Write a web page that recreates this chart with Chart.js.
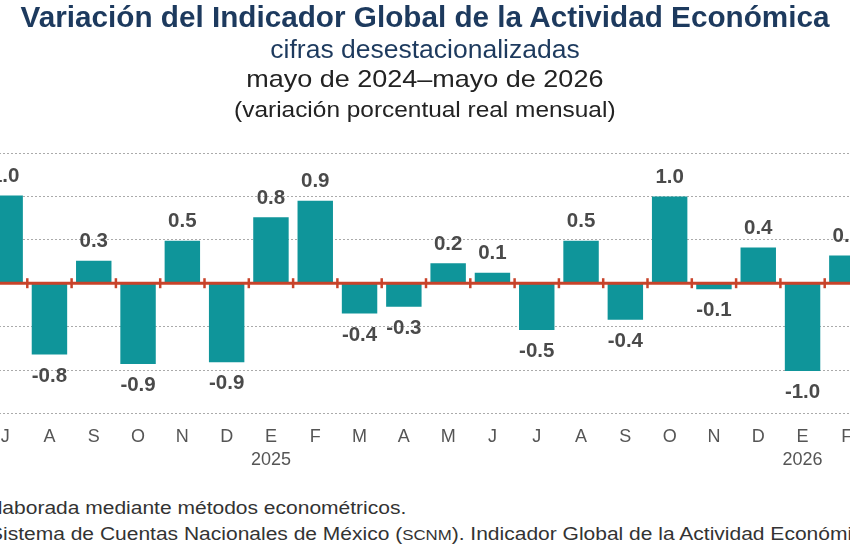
<!DOCTYPE html>
<html lang="es">
<head>
<meta charset="utf-8">
<title>IGAE</title>
<script src="https://cdn.jsdelivr.net/npm/chart.js@4.4.1/dist/chart.umd.min.js"></script>
<style>
    html, body { margin: 0; padding: 0; width: 850px; height: 550px; overflow: hidden; background: #fff; }
    body { position: relative; font-family: "Liberation Sans", Arial, sans-serif; }
    #chartIgae { position: absolute; left: -17px; top: 0; width: 886px; height: 490px; }
    .titulo { position: absolute; left: 0; width: 850px; text-align: center; white-space: nowrap; line-height: 1; }
    .titulo span { display: inline-block; transform-origin: center; }
    .nota { position: absolute; white-space: nowrap; font-size: 17.5px; color: #333; line-height: 1; transform: scaleX(1.2); transform-origin: left; }
</style>
</head>
<body>
<canvas id="chartIgae" width="886" height="490"></canvas>

<div class="titulo" style="top:2px; font-size:29.7px; font-weight:bold; color:#1d3a5e;"><span>Variación del Indicador Global de la Actividad Económica</span></div>
<div class="titulo" style="top:35.5px; font-size:26.5px; color:#1d3a5e;"><span>cifras desestacionalizadas</span></div>
<div class="titulo" style="top:66.5px; font-size:24px; color:#222;"><span style="transform:scaleX(1.125);">mayo de 2024–mayo de 2026</span></div>
<div class="titulo" style="top:98.5px; font-size:22px; color:#222;"><span style="transform:scaleX(1.11);">(variación porcentual real mensual)</span></div>

<div class="nota" style="left:-14.3px; top:500px;">elaborada mediante métodos econométricos.</div>
<div class="nota" style="left:-11px; top:526px;">Sistema de Cuentas Nacionales de México (<span style="font-size:14px;">SCNM</span>). Indicador Global de la Actividad Económica</div>

<script>
// Meses visibles (julio 2024 - febrero 2026)
const meses = ['J', 'A', 'S', 'O', 'N', 'D', 'E', 'F', 'M', 'A', 'M', 'J', 'J', 'A', 'S', 'O', 'N', 'D', 'E', 'F'];
const anios = ['', '', '', '', '', '', '2025', '', '', '', '', '', '', '', '', '', '', '', '2026', ''];
// Variación porcentual real mensual (altura de barra)
const variacion = [1.01, -0.82, 0.26, -0.93, 0.49, -0.91, 0.76, 0.95, -0.35, -0.27, 0.23, 0.12, -0.54, 0.49, -0.42, 1.0, -0.07, 0.41, -1.01, 0.32];
// Cifras publicadas (redondeadas a un decimal)
const etiquetas = ['1.0', '-0.8', '0.3', '-0.9', '0.5', '-0.9', '0.8', '0.9', '-0.4', '-0.3', '0.2', '0.1', '-0.5', '0.5', '-0.4', '1.0', '-0.1', '0.4', '-1.0', '0.3'];
const ejeMin = -1.5;
const ejeMax = 1.5;
const ejePaso = 0.5;

const fuente = '"Liberation Sans", Arial, sans-serif';

// Línea del cero con marcas entre meses
const lineaCero = {
    id: 'lineaCero',
    afterDatasetsDraw(chart) {
        const { ctx, chartArea, scales } = chart;
        const y0 = scales.y.getPixelForValue(0);
        ctx.save();
        ctx.strokeStyle = '#c8432a';
        ctx.lineWidth = 3;
        ctx.beginPath();
        ctx.moveTo(chartArea.left, y0);
        ctx.lineTo(chartArea.right, y0);
        ctx.stroke();
        ctx.lineWidth = 2.5;
        for (let i = 0; i < meses.length - 1; i++) {
            const x = (scales.x.getPixelForValue(i) + scales.x.getPixelForValue(i + 1)) / 2;
            ctx.beginPath();
            ctx.moveTo(x, y0 - 5);
            ctx.lineTo(x, y0 + 5);
            ctx.stroke();
        }
        ctx.restore();
    }
};

// Etiquetas de valor sobre/bajo cada barra
const etiquetasValor = {
    id: 'etiquetasValor',
    afterDraw(chart) {
        const { ctx } = chart;
        const barras = chart.getDatasetMeta(0).data;
        ctx.save();
        ctx.font = 'bold 20.5px ' + fuente;
        ctx.fillStyle = '#4a4a4a';
        ctx.textAlign = 'center';
        ctx.textBaseline = 'middle';
        barras.forEach((barra, i) => {
            const y = variacion[i] >= 0 ? barra.y - 19 : barra.y + 21.5;
            ctx.fillText(etiquetas[i], barra.x, y);
        });
        ctx.restore();
    }
};

new Chart(document.getElementById('chartIgae'), {
    type: 'bar',
    data: {
        labels: meses.map((m, i) => anios[i] ? [m, anios[i]] : m),
        datasets: [{
            data: variacion,
            backgroundColor: '#0f959a',
            borderWidth: 0,
            barPercentage: 0.8,
            categoryPercentage: 1.0
        }]
    },
    options: {
        responsive: false,
        animation: false,
        layout: { padding: { top: 153, bottom: 5.5, left: 0, right: 0 } },
        plugins: {
            legend: { display: false },
            tooltip: { enabled: false }
        },
        scales: {
            x: {
                grid: { display: false, drawTicks: false },
                border: { display: false },
                ticks: {
                    padding: 12.5,
                    color: '#555',
                    font: { family: fuente, size: 18, lineHeight: 1.28 },
                    maxRotation: 0,
                    autoSkip: false
                }
            },
            y: {
                min: ejeMin,
                max: ejeMax,
                ticks: { display: false, stepSize: ejePaso },
                grid: { color: '#aaaaaa', lineWidth: 1, drawTicks: false },
                border: { display: false, dash: [2, 2] }
            }
        }
    },
    plugins: [lineaCero, etiquetasValor]
});
</script>
</body>
</html>
